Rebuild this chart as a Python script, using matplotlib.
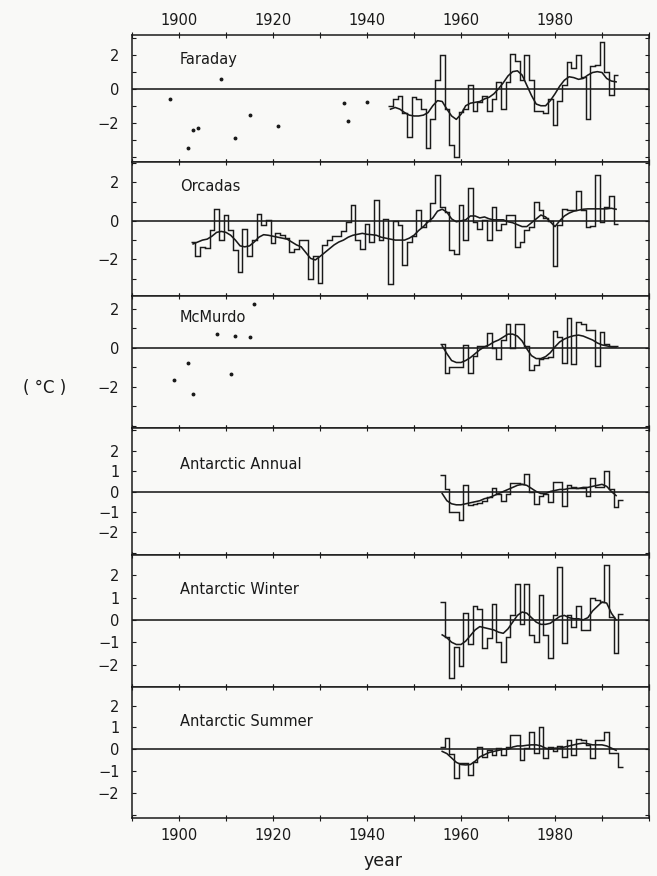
import numpy as np
import matplotlib
matplotlib.use("Agg")
import matplotlib.pyplot as plt
from matplotlib.ticker import MultipleLocator, FixedLocator

# ---------------- data ----------------
faraday_years = np.arange(1945, 1994)
faraday_vals = [-1.0, -0.6, -0.4, -1.4, -2.85, -0.5, -0.6, -1.2, -3.5, -1.75,
                0.5, 2.0, -1.2, -3.3, -4.0, -1.35, -1.2, 0.2, -1.3, -0.8,
                -0.4, -1.3, -0.6, 0.4, -1.2, 0.4, 2.05, 1.65, 0.5, 1.95,
                0.5, -1.3, -1.3, -1.4, -0.6, -2.15, -0.7, 0.2, 1.55, 1.2,
                2.0, 0.7, -1.75, 1.35, 1.4, 2.75, 1.0, -0.35, 0.8]
faraday_smooth = [-1.2, -1.1, -1.2, -1.4, -1.55, -1.6, -1.6, -1.55, -1.4, -1.0,
                  -0.7, -0.75, -1.2, -1.6, -1.8, -1.5, -1.0, -0.85, -0.8, -0.75,
                  -0.6, -0.5, -0.3, 0.0, 0.35, 0.75, 1.0, 1.05, 0.8, 0.2,
                  -0.4, -0.9, -1.0, -1.0, -0.7, -0.3, 0.15, 0.5, 0.7, 0.65,
                  0.55, 0.6, 0.8, 0.95, 1.0, 0.95, 0.6, 0.45, 0.4]
faraday_dot_years = [1898, 1902, 1903, 1904, 1909, 1912, 1915, 1921, 1935, 1936, 1940]
faraday_dot_vals = [-0.63, -3.47, -2.41, -2.31, 0.55, -2.88, -1.57, -2.2, -0.82, -1.92, -0.78]

orcadas_years = np.arange(1903, 1994)
orcadas_vals = [-1.1, -1.85, -1.35, -1.4, -0.5, 0.6, -1.0, 0.3, -0.5, -1.5,
                -2.65, -0.45, -1.85, -1.0, 0.35, -0.2, 0.05, -1.15, -0.65, -0.75,
                -0.9, -1.6, -1.45, -1.0, -1.0, -3.0, -1.85, -3.2, -1.25, -1.0,
                -0.8, -0.8, -0.55, -0.05, 0.8, -1.0, -1.45, -0.15, -1.1, 1.1,
                -1.0, 0.1, -3.3, 0.0, -0.2, -2.3, -1.1, -0.8, 0.55, -0.3,
                0.0, 0.93, 2.4, 0.72, 0.45, -1.5, -1.7, 0.8, -1.0, 1.7,
                -0.05, -0.4, 0.05, -1.0, 0.7, -0.5, -0.15, 0.3, 0.3, -1.35,
                -1.1, -0.5, -0.3, 1.0, 0.55, 0.15, 0.0, -2.35, -0.2, 0.6,
                0.55, 0.55, 1.55, 0.55, -0.3, -0.25, 2.35, -0.05, 0.7, 1.3,
                -0.15]
orcadas_smooth = [-1.2, -1.1, -1.0, -0.95, -0.8, -0.6, -0.55, -0.6, -0.75, -1.0,
                  -1.3, -1.35, -1.3, -1.1, -0.85, -0.72, -0.75, -0.8, -0.85, -0.9,
                  -0.95, -1.1, -1.25, -1.35, -1.65, -1.95, -2.03, -1.85, -1.65, -1.45,
                  -1.25, -1.1, -1.0, -0.85, -0.75, -0.7, -0.65, -0.7, -0.72, -0.75,
                  -0.85, -0.9, -0.95, -1.0, -1.0, -1.0, -0.9, -0.75, -0.5, -0.3,
                  -0.05, 0.15, 0.5, 0.6, 0.45, 0.1, -0.05, 0.0, 0.05, 0.25,
                  0.25, 0.15, 0.2, 0.1, 0.05, 0.05, 0.05, -0.05, -0.1, -0.2,
                  -0.3, -0.3, -0.1, 0.1, 0.3, 0.2, -0.05, -0.3, 0.0, 0.25,
                  0.4, 0.5, 0.55, 0.6, 0.62, 0.62, 0.62, 0.62, 0.62, 0.65,
                  0.6]

mcmurdo_years = np.arange(1956, 1994)
mcmurdo_vals = [0.2, -1.3, -1.0, -1.0, -1.0, 0.15, -1.3, -0.4, 0.1, 0.1,
                0.75, 0.0, -0.55, 0.4, 1.2, 0.0, 1.2, 1.2, 0.1, -1.15,
                -0.9, -0.55, -0.5, -0.45, 0.85, 0.55, -0.8, 1.55, -0.85, 1.3,
                1.2, 0.9, 0.9, -0.95, 0.8, 0.2, 0.1, 0.1]
mcmurdo_smooth = [0.1, -0.3, -0.65, -0.75, -0.75, -0.65, -0.5, -0.3, -0.1, 0.05,
                  0.15, 0.3, 0.4, 0.55, 0.7, 0.7, 0.6, 0.35, -0.05, -0.4,
                  -0.55, -0.55, -0.45, -0.25, 0.05, 0.3, 0.45, 0.55, 0.62, 0.65,
                  0.6, 0.5, 0.4, 0.25, 0.15, 0.1, 0.05, 0.05]
mcmurdo_dot_years = [1899, 1902, 1903, 1908, 1911, 1912, 1915, 1916]
mcmurdo_dot_vals = [-1.67, -0.77, -2.36, 0.71, -1.36, 0.6, 0.53, 2.24]

ant_years = np.arange(1956, 1995)
ant_smooth_years = np.arange(1956, 1994)
annual_vals = [0.8, 0.1, -1.0, -1.0, -1.4, 0.33, -0.65, -0.6, -0.55, -0.45,
               -0.25, 0.15, -0.1, -0.45, -0.1, 0.4, 0.4, 0.35, 0.85, 0.0,
               -0.6, -0.2, -0.1, -0.5, 0.45, 0.45, -0.7, 0.3, 0.2, 0.15,
               0.15, -0.2, 0.65, 0.2, 0.2, 1.0, 0.1, -0.75, -0.4]
annual_smooth = [-0.1, -0.45, -0.6, -0.65, -0.65, -0.6, -0.55, -0.5, -0.45, -0.35,
                 -0.3, -0.2, -0.1, 0.0, 0.1, 0.2, 0.3, 0.35, 0.3, 0.15,
                 0.0, -0.1, -0.1, 0.0, 0.05, 0.1, 0.1, 0.15, 0.15, 0.15,
                 0.2, 0.2, 0.25, 0.3, 0.35, 0.25, 0.0, -0.2]
winter_vals = [0.8, -0.75, -2.6, -1.2, -2.07, 0.3, -1.1, 0.6, 0.5, -1.26,
               -0.8, 0.7, -1.0, -1.9, -0.75, 0.2, 1.6, -0.2, 1.6, -0.67,
               -1.0, 1.1, -0.67, -1.7, 0.2, 2.37, -1.04, 0.2, -0.3, 0.6,
               -0.45, -0.45, 0.96, 0.9, 0.8, 2.44, 0.15, -1.5, 0.25]
winter_smooth = [-0.67, -0.8, -1.0, -1.1, -1.1, -0.95, -0.7, -0.45, -0.3, -0.35,
                 -0.4, -0.45, -0.55, -0.6, -0.4, -0.1, 0.2, 0.35, 0.3, 0.1,
                 -0.1, -0.2, -0.2, -0.15, 0.0, 0.15, 0.2, 0.1, 0.05, 0.05,
                 0.0, 0.1, 0.4, 0.6, 0.8, 0.75, 0.3, 0.0]
summer_vals = [0.1, 0.5, -0.2, -1.33, -0.64, -0.64, -1.18, -0.57, 0.08, -0.34,
               -0.03, -0.26, 0.05, -0.26, 0.12, 0.66, 0.66, -0.49, 0.05, 0.81,
               -0.18, 1.0, -0.41, 0.12, -0.1, 0.15, -0.34, 0.4, -0.26, 0.46,
               0.43, 0.2, -0.41, 0.43, 0.43, 0.81, -0.18, -0.18, -0.8]
summer_smooth = [-0.1, -0.2, -0.4, -0.6, -0.7, -0.72, -0.7, -0.55, -0.35, -0.25,
                 -0.15, -0.1, -0.05, 0.0, 0.0, 0.1, 0.15, 0.15, 0.18, 0.2,
                 0.2, 0.15, 0.05, 0.0, 0.05, 0.05, 0.1, 0.15, 0.2, 0.25,
                 0.28, 0.25, 0.2, 0.2, 0.2, 0.15, 0.05, -0.05]

panel_names = ["Faraday", "Orcadas", "McMurdo",
               "Antarctic Annual", "Antarctic Winter", "Antarctic Summer"]
x_tick_labels = [1900, 1920, 1940, 1960, 1980]

# ---------------- layout ----------------
W, H = 657, 876
fig = plt.figure(figsize=(W / 100, H / 100), dpi=100)
BG = "#f9f9f7"
fig.patch.set_facecolor(BG)
INK = "#1a1a1a"
plt.rcParams["font.family"] = ["DejaVu Sans"]

left_px, right_px = 132, 649
bounds = [35, 162, 296, 428, 555, 687, 818]
ylims = [(-4.3, 3.15), (-3.9, 3.05), (-4.1, 2.65),
         (-3.1, 3.1), (-3.0, 2.9), (-3.15, 2.85)]
label_y = [0.81, 0.82, 0.84, 0.71, 0.735, 0.74]

series = [
    (faraday_years, faraday_vals, faraday_years, faraday_smooth, faraday_dot_years, faraday_dot_vals),
    (orcadas_years, orcadas_vals, orcadas_years, orcadas_smooth, None, None),
    (mcmurdo_years, mcmurdo_vals, mcmurdo_years, mcmurdo_smooth, mcmurdo_dot_years, mcmurdo_dot_vals),
    (ant_years, annual_vals, ant_smooth_years, annual_smooth, None, None),
    (ant_years, winter_vals, ant_smooth_years, winter_smooth, None, None),
    (ant_years, summer_vals, ant_smooth_years, summer_smooth, None, None),
]

for i in range(6):
    top, bot = bounds[i], bounds[i + 1]
    ax = fig.add_axes([left_px / W, 1 - bot / H, (right_px - left_px) / W, (bot - top) / H])
    ax.set_facecolor(BG)
    yrs, vals, syrs, sm, dyrs, dvals = series[i]
    yrs = np.asarray(yrs)
    edges = np.append(yrs - 0.5, yrs[-1] + 0.5)
    ax.stairs(vals, edges, baseline=None, color=INK, lw=1.05)
    ax.plot(syrs, sm, color=INK, lw=1.15)
    if dyrs is not None:
        ax.plot(dyrs, dvals, ls="none", marker="o", ms=1.8, color=INK)
    ax.axhline(0, color=INK, lw=1.15)
    ax.set_xlim(1890, 2000)
    ax.set_ylim(*ylims[i])
    ax.xaxis.set_major_locator(FixedLocator(x_tick_labels))
    ax.xaxis.set_minor_locator(MultipleLocator(10))
    if i < 3:
        ax.yaxis.set_major_locator(FixedLocator([-2, 0, 2]))
    else:
        ax.yaxis.set_major_locator(FixedLocator([-2, -1, 0, 1, 2]))
    ax.yaxis.set_minor_locator(MultipleLocator(1))
    ax.tick_params(axis="x", which="both", direction="inout", length=5, width=0.8,
                   top=True, bottom=True, labelbottom=(i == 5), labeltop=(i == 0),
                   labelsize=10.5, colors=INK, pad=(2.5 if i == 0 else 5))
    ax.tick_params(axis="y", which="both", direction="in", length=3, width=0.8,
                   left=True, right=True, labelsize=10.5, colors=INK, pad=9)
    ax.set_yticklabels([("\u2212" + str(abs(int(v))) if v < 0 else str(int(v)))
                        for v in ax.get_yticks()])
    for s in ax.spines.values():
        s.set_color(INK)
        s.set_linewidth(1.1)
    ax.text(0.093, label_y[i], panel_names[i], transform=ax.transAxes,
            ha="left", va="center", fontsize=10.5, color=INK)

fig.text(45 / W, 1 - 388 / H, "( °C )", ha="center", va="center", fontsize=12, color=INK)
fig.text(383 / W, 1 - 861 / H, "year", ha="center", va="center", fontsize=12.5, color=INK)

fig.savefig("out.png", dpi=100, facecolor=BG)
